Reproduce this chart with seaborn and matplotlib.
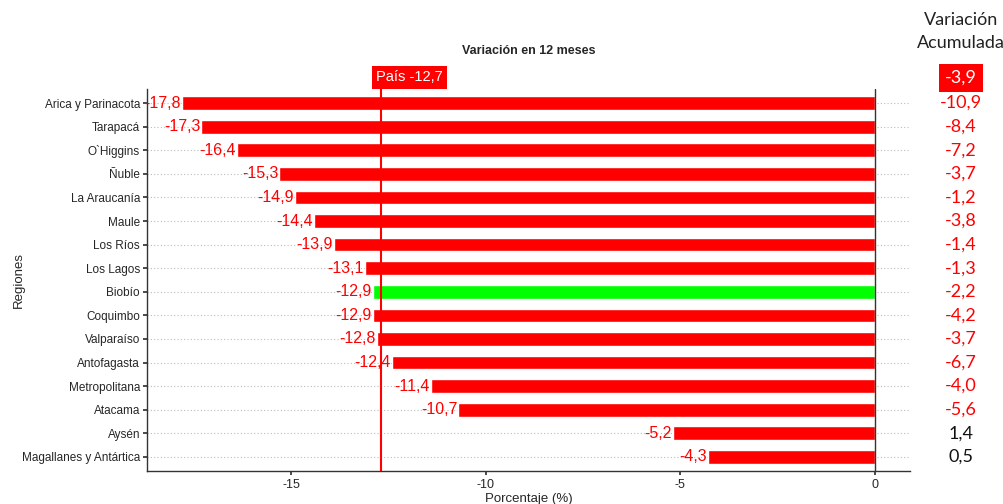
import seaborn as sns
import matplotlib.pyplot as plt
import pandas as pd

regiones = ['Arica y Parinacota', 'Tarapacá', 'O`Higgins', 'Ñuble', 'La Araucanía',
            'Maule', 'Los Ríos', 'Los Lagos', 'Biobío', 'Coquimbo', 'Valparaíso',
            'Antofagasta', 'Metropolitana', 'Atacama', 'Aysén', 'Magallanes y Antártica']
var_12m = [-17.8, -17.3, -16.4, -15.3, -14.9, -14.4, -13.9, -13.1, -12.9, -12.9,
           -12.8, -12.4, -11.4, -10.7, -5.2, -4.3]
var_acum = [-10.9, -8.4, -7.2, -3.7, -1.2, -3.8, -1.4, -1.3, -2.2, -4.2,
            -3.7, -6.7, -4.0, -5.6, 1.4, 0.5]
pais_12m = -12.7
pais_acum = -3.9
destacada = 'Biobío'

df = pd.DataFrame({'region': regiones, 'var': var_12m, 'acum': var_acum})
colores = {r: ('#00FF00' if r == destacada else '#FF0000') for r in regiones}

def fmt(v):
    return f'{v:.1f}'.replace('.', ',')

sns.set_theme(style='white')
plt.rcParams['font.family'] = ['Liberation Sans', 'DejaVu Sans']

fig = plt.figure(figsize=(10.04, 5.04), dpi=100)
ax = fig.add_axes([0.1464, 0.0655, 0.76, 0.758])

# dotted guide lines behind bars
for i in range(len(regiones)):
    ax.axhline(i, color='#BBBBBB', lw=0.8, ls=(0, (1, 2)), zorder=0)

sns.barplot(data=df, x='var', y='region', hue='region', palette=colores,
            order=regiones, width=0.58, legend=False, ax=ax, zorder=2,
            saturation=1)

ax.set_xlim(-18.7, 0.9)
ax.set_ylim(len(regiones) - 0.4, -0.6)
ax.axvline(0, color='#333333', lw=1, zorder=3)
ax.axvline(pais_12m, color='#FF0000', lw=1.5, zorder=4)

# labels at the end of each bar
for i, v in enumerate(var_12m):
    ax.text(v - 0.03, i, fmt(v), ha='right', va='center', color='#FF0000',
            fontsize=11.5, zorder=5)

# country label
ax.text(pais_12m - 0.12, -1.1, f'País {fmt(pais_12m)}', ha='left', va='center',
        color='white', fontsize=10.5, clip_on=False,
        bbox=dict(boxstyle='square,pad=0.3', fc='#FF0000', ec='none'))

ax.set_xticks([-15, -10, -5, 0])
ax.set_xticklabels(['-15', '-10', '-5', '0'], fontsize=9)
ax.tick_params(axis='y', labelsize=8.5, length=3, left=True, color='#333333', pad=2)
ax.tick_params(axis='x', length=3, bottom=True, color='#333333', pad=3)
ax.set_xlabel('Porcentaje (%)', fontsize=9.5, labelpad=1)
ax.set_ylabel('Regiones', fontsize=9.5)
ax.yaxis.set_label_coords(-0.16, 0.5)
ax.set_title('Variación en 12 meses', fontsize=9, fontweight='bold', pad=25)

for s in ['top', 'right']:
    ax.spines[s].set_visible(False)
for s in ['left', 'bottom']:
    ax.spines[s].set_color('#333333')
    ax.spines[s].set_linewidth(1)

# accumulated variation column
xr = 0.957
fig.text(xr, 1 - 20 / 504, 'Variación', ha='center', va='center',
         fontsize=13, family='Lato', color='#222222')
fig.text(xr, 1 - 43 / 504, 'Acumulada', ha='center', va='center',
         fontsize=13, family='Lato', color='#222222')
fig.text(xr, 1 - 78 / 504, fmt(pais_acum), ha='center', va='center', fontsize=13,
         family='Lato', color='white',
         bbox=dict(boxstyle='square,pad=0.35', fc='#FF0000', ec='none'))
for i, v in enumerate(var_acum):
    ax.annotate(fmt(v), xy=(xr, i), xycoords=('figure fraction', 'data'),
                ha='center', va='center', fontsize=13, family='Lato',
                color='#FF0000' if v < 0 else '#111111', annotation_clip=False)

fig.savefig('out.png', dpi=100)
